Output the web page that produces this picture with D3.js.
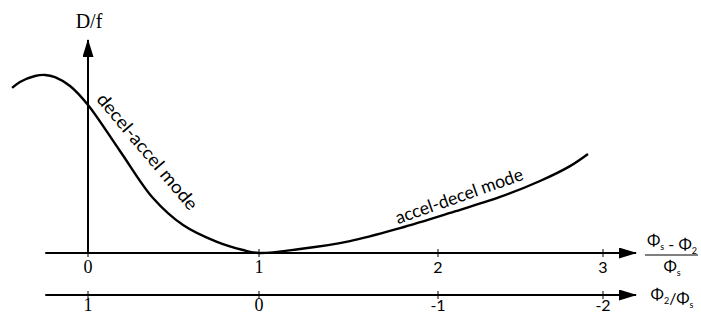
<!DOCTYPE html>
<html>
<head>
<meta charset="utf-8">
<script src="https://cdn.jsdelivr.net/npm/d3@7"></script>
<style>
  body { margin: 0; background: #fff; }
  svg { display: block; }
</style>
</head>
<body>
<div id="chart"></div>
<script>
// ticks on the upper axis, (Φs - Φ2)/Φs
const topTicks = [0, 1, 2, 3];
// ticks on the lower axis, Φ2/Φs  (= 1 - upper value)
const bottomTicks = [1, 0, -1, -2];

// D/f curve (x in upper-axis units)
const curveX = [-0.444, -0.398, -0.310, -0.251, -0.193, -0.105, 0, 0.187, 0.380, 0.556, 0.754, 0.906, 1,
                1.229, 1.508, 1.788, 2.073, 2.376, 2.618, 2.800, 2.909];
const curveY = [0.775, 0.803, 0.831, 0.836, 0.826, 0.784, 0.695, 0.479, 0.258, 0.131, 0.052, 0.014, 0,
                0.019, 0.056, 0.117, 0.188, 0.263, 0.338, 0.408, 0.465];

const axisExtent = [-0.25, 3.2];
const modeLabels = [
  { text: 'decel-accel mode', x: 0.045, y: 0.72, angle: 50, len: 146 },
  { text: 'accel-decel mode', x: 1.777, y: 0.135, angle: -19.5, len: 134 }
];

const width = 701, height = 313;
const sans = 'Lato, "Open Sans", sans-serif';
const serif = '"Liberation Serif", "DejaVu Serif", serif';

const svg = d3.select('#chart')
  .append('svg')
  .attr('width', width)
  .attr('height', height);

// hand-drawn axis is a bit uneven, so map each tick separately
const x = d3.scaleLinear()
  .domain(topTicks)
  .range([88, 259, 438, 603]);
const y = d3.scaleLinear()
  .domain([0, 1])
  .range([253, 40]);

const topY = y(0);
const bottomY = 295;

svg.append('defs').append('marker')
  .attr('id', 'arrow')
  .attr('viewBox', '0 0 18 11')
  .attr('refX', 17)
  .attr('refY', 5.5)
  .attr('markerWidth', 18)
  .attr('markerHeight', 11)
  .attr('markerUnits', 'userSpaceOnUse')
  .attr('orient', 'auto')
  .append('path')
  .attr('d', 'M0,0 L18,5.5 L0,11 Z')
  .attr('fill', '#000');

// horizontal axes
[topY, bottomY].forEach(yy => {
  svg.append('line')
    .attr('x1', x(axisExtent[0]))
    .attr('x2', x(axisExtent[1]))
    .attr('y1', yy)
    .attr('y2', yy)
    .attr('stroke', '#000')
    .attr('stroke-width', 2)
    .attr('marker-end', 'url(#arrow)');
});

// vertical axis
svg.append('line')
  .attr('x1', x(0))
  .attr('x2', x(0))
  .attr('y1', y(0))
  .attr('y2', y(1))
  .attr('stroke', '#000')
  .attr('stroke-width', 2)
  .attr('marker-end', 'url(#arrow)');

svg.append('text')
  .attr('x', x(0) + 1)
  .attr('y', 28)
  .attr('text-anchor', 'middle')
  .style('font-family', serif)
  .style('font-size', '20px')
  .text('D/f');

// ticks + labels
function drawTicks(values, toUpper, yy, dy) {
  values.forEach((v, i) => {
    const px = x(toUpper(v));
    svg.append('line')
      .attr('x1', px).attr('x2', px)
      .attr('y1', yy - 4).attr('y2', yy + 4)
      .attr('stroke', '#000')
      .attr('stroke-width', 1);
    svg.append('text')
      .attr('x', px)
      .attr('y', yy + dy)
      .attr('text-anchor', 'middle')
      .style('font-family', i < 2 ? serif : sans)
      .style('font-size', i < 2 ? '18px' : '16px')
      .text(v);
  });
}
drawTicks(topTicks, v => v, topY, 20);
drawTicks(bottomTicks, v => 1 - v, bottomY, 16);

// the curve
const line = d3.line()
  .x(d => x(d[0]))
  .y(d => y(d[1]))
  .curve(d3.curveCatmullRom.alpha(0.5));

svg.append('path')
  .datum(d3.zip(curveX, curveY))
  .attr('d', line)
  .attr('fill', 'none')
  .attr('stroke', '#000')
  .attr('stroke-width', 2.4);

modeLabels.forEach(l => {
  svg.append('text')
    .attr('transform', `translate(${x(l.x)},${y(l.y)}) rotate(${l.angle})`)
    .attr('textLength', l.len)
    .attr('lengthAdjust', 'spacingAndGlyphs')
    .style('font-family', sans)
    .style('font-size', '18px')
    .text(l.text);
});

// axis titles with Φ and subscripts
function phi(sel, sub) {
  sel.append('tspan').text('Φ');
  sel.append('tspan').attr('dy', 4).style('font-size', '9px').text(sub);
  sel.append('tspan').attr('dy', -4).text('');
}

const titleX = 672;
const num = svg.append('text')
  .attr('x', titleX).attr('y', 246)
  .attr('text-anchor', 'middle')
  .style('font-family', sans)
  .style('font-size', '16px');
phi(num, 's');
num.append('tspan').text(' - ');
phi(num, '2');

svg.append('line')
  .attr('x1', 645).attr('x2', 698)
  .attr('y1', 255).attr('y2', 255)
  .attr('stroke', '#000')
  .attr('stroke-width', 1);

const den = svg.append('text')
  .attr('x', titleX).attr('y', 272)
  .attr('text-anchor', 'middle')
  .style('font-family', sans)
  .style('font-size', '16px');
phi(den, 's');

const bot = svg.append('text')
  .attr('x', titleX).attr('y', 300)
  .attr('text-anchor', 'middle')
  .style('font-family', sans)
  .style('font-size', '16px');
phi(bot, '2');
bot.append('tspan').text('/');
phi(bot, 's');
</script>
</body>
</html>
